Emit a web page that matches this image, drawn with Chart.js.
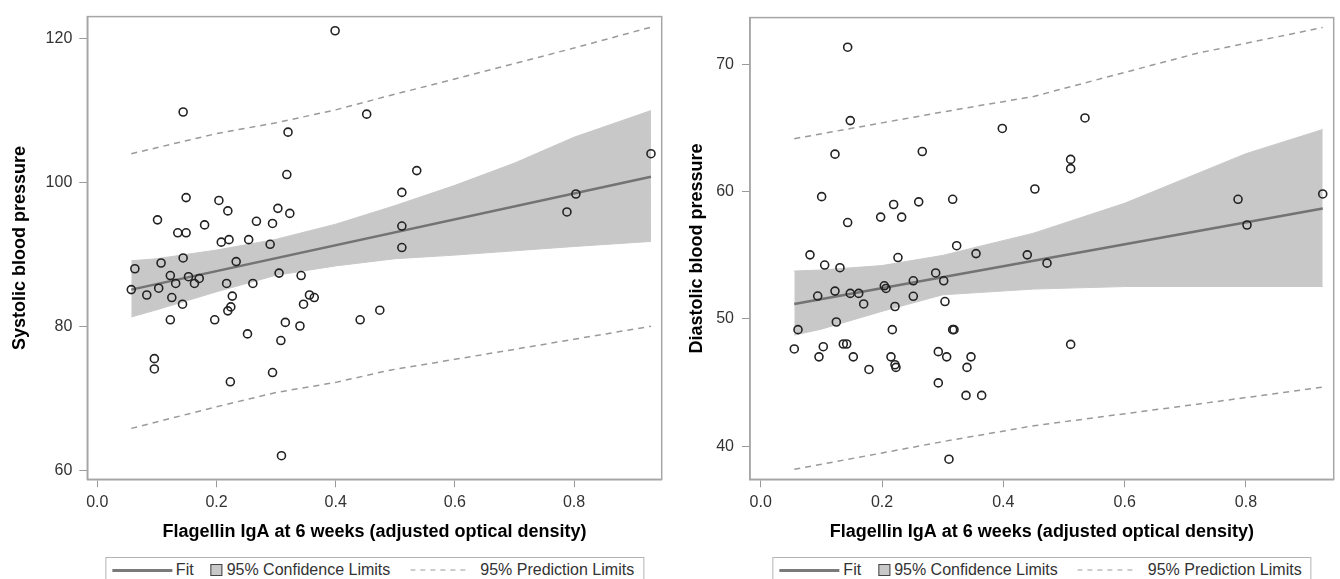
<!DOCTYPE html>
<html>
<head>
<meta charset="utf-8">
<script src="https://cdn.jsdelivr.net/npm/chart.js@4.4.0/dist/chart.umd.min.js"></script>
<style>
  html, body { margin: 0; padding: 0; background: #fff; width: 1340px; height: 579px; overflow: hidden;
               font-family: "Liberation Sans", Arial, sans-serif; }
  .panneau { position: absolute; top: 0; width: 670px; height: 550px; }
  .legende { position: absolute; top: 557px; height: 26px; box-sizing: border-box; border: 1px solid #b4b4b4;
             display: flex; align-items: center; font-size: 16px; color: #333; white-space: nowrap;
             padding: 0 9px 0 6px; transform: translateX(-50%); }
  .trait { width: 60px; height: 0; border-top: 3px solid #7a7a7a; margin-right: 4px; }
  .carre { width: 10px; height: 10px; background: #c8c8c8; border: 1px solid #444; margin: 0 4px 0 17px; }
  .pointille { margin: 0 12px 0 20px; }
</style>
</head>
<body>
<div class="panneau" style="left:0"><canvas id="graf_systolique"></canvas></div>
<div class="panneau" style="left:670px"><canvas id="graf_diastolique"></canvas></div>

<div class="legende" style="left:374.5px">
  <span class="trait"></span>Fit<span class="carre"></span>95% Confidence Limits
  <svg class="pointille" width="58" height="4"><line x1="0" y1="2" x2="58" y2="2" stroke="#999" stroke-width="1.2" stroke-dasharray="5,5"/></svg>95% Prediction Limits
</div>
<div class="legende" style="left:1042px">
  <span class="trait"></span>Fit<span class="carre"></span>95% Confidence Limits
  <svg class="pointille" width="58" height="4"><line x1="0" y1="2" x2="58" y2="2" stroke="#999" stroke-width="1.2" stroke-dasharray="5,5"/></svg>95% Prediction Limits
</div>

<script>
// graduations communes de l'axe X
const ticks_x = [0, 0.2, 0.4, 0.6, 0.8];

// graphique de gauche : pression systolique
const sys_x = [0.399, 0.144, 0.452, 0.320, 0.318, 0.149, 0.204, 0.219, 0.303, 0.323,
               0.101, 0.135, 0.149, 0.180, 0.267, 0.294, 0.208, 0.221, 0.254, 0.290,
               0.063, 0.107, 0.144, 0.233, 0.1225, 0.153, 0.171, 0.163, 0.1315, 0.103,
               0.057, 0.083, 0.125, 0.143, 0.217, 0.261, 0.2265, 0.224, 0.219, 0.305,
               0.342, 0.356, 0.364, 0.346, 0.1225, 0.197, 0.3155, 0.340, 0.252, 0.308,
               0.441, 0.474, 0.0957, 0.0957, 0.2232, 0.294, 0.309, 0.536, 0.511, 0.511,
               0.511, 0.929, 0.803, 0.788];
const sys_y = [121.1, 109.8, 109.5, 107.0, 101.1, 97.9, 97.5, 96.05, 96.4, 95.7,
               94.8, 93.0, 93.0, 94.1, 94.6, 94.3, 91.7, 92.05, 92.05, 91.4,
               88.0, 88.8, 89.5, 89.0, 87.06, 86.9, 86.65, 85.96, 85.96, 85.3,
               85.1, 84.35, 84.0, 83.07, 85.96, 85.96, 84.2, 82.7, 82.15, 87.4,
               87.06, 84.35, 84.0, 83.07, 80.9, 80.9, 80.54, 80.04, 78.94, 78.02,
               80.9, 82.24, 75.5, 74.07, 72.28, 73.57, 62.0, 101.65, 98.62, 93.94,
               90.95, 104.0, 98.4, 95.9];
const sys_fit_x = [0.057, 0.929];
const sys_fit_y = [85.1, 100.8];
const sys_ci_x = [0.057, 0.1, 0.2, 0.3, 0.4, 0.5, 0.6, 0.7, 0.8, 0.929];
const sys_ci_haut = [89.1, 89.4, 90.6, 92.1, 94.2, 96.8, 99.6, 102.7, 106.3, 110.0];
const sys_ci_bas = [81.3, 82.3, 84.8, 87.1, 88.4, 89.4, 89.9, 90.5, 91.1, 91.8];
const sys_pi_x = [0.057, 0.2, 0.3, 0.4, 0.491, 0.6, 0.8, 0.929];
const sys_pi_haut = [104.0, 106.8, 108.3, 110.1, 112.1, 114.4, 118.7, 121.6];
const sys_pi_bas = [65.8, 68.8, 70.8, 72.2, 73.9, 75.4, 78.2, 80.0];
const sys_ticks_y = [60, 80, 100, 120];

// graphique de droite : pression diastolique
const dia_x = [0.1434, 0.1477, 0.1225, 0.2664, 0.3983, 0.452, 0.1005, 0.2192, 0.2605, 0.3165,
               0.1978, 0.2324, 0.1434, 0.3231, 0.0813, 0.355, 0.4395, 0.2263, 0.1055, 0.1307,
               0.2885, 0.3017, 0.2516, 0.2038, 0.2066, 0.1225, 0.094, 0.1477, 0.1616, 0.2516,
               0.1698, 0.2214, 0.3038, 0.1247, 0.0615, 0.217, 0.3165, 0.3187, 0.0554, 0.1032,
               0.1362, 0.1418, 0.0961, 0.1527, 0.2148, 0.2214, 0.223, 0.1785, 0.2928, 0.3066,
               0.3467, 0.3401, 0.2928, 0.3385, 0.3643, 0.3104, 0.5346, 0.511, 0.511, 0.7869,
               0.9265, 0.8017, 0.472, 0.511];
const dia_y = [71.37, 65.6, 62.96, 63.17, 64.98, 60.22, 59.62, 59.0, 59.21, 59.41,
               58.01, 58.01, 57.58, 55.76, 55.04, 55.14, 55.04, 54.83, 54.24, 54.03,
               53.62, 53.0, 53.0, 52.61, 52.4, 52.19, 51.8, 52.01, 52.01, 51.78,
               51.18, 50.98, 51.37, 49.76, 49.16, 49.16, 49.16, 49.16, 47.64, 47.82,
               48.03, 48.03, 47.02, 47.02, 47.02, 46.4, 46.19, 46.03, 47.43, 47.02,
               47.02, 46.19, 44.97, 43.99, 43.99, 38.97, 65.81, 62.55, 61.82, 59.41,
               59.83, 57.39, 54.39, 48.0];
const dia_fit_x = [0.0554, 0.9265];
const dia_fit_y = [51.18, 58.69];
const dia_ci_x = [0.0554, 0.1, 0.2, 0.3, 0.45, 0.6, 0.8, 0.9265];
const dia_ci_haut = [53.77, 53.85, 54.2, 55.0, 56.75, 59.1, 63.0, 64.9];
const dia_ci_bas = [48.73, 49.2, 50.6, 51.9, 52.35, 52.55, 52.55, 52.55];
const dia_pi_x = [0.0554, 0.2, 0.3, 0.45, 0.72, 0.9265];
const dia_pi_haut = [64.18, 65.42, 66.28, 67.5, 70.9, 72.92];
const dia_pi_bas = [38.18, 39.46, 40.35, 41.6, 43.3, 44.64];
const dia_ticks_y = [40, 50, 60, 70];

Chart.defaults.font.family = '"Liberation Sans", Arial, sans-serif';

// petit plugin pour fermer le cadre (haut et droite)
const cadre = {
  id: 'cadre',
  beforeDatasetsDraw(chart) {
    const { ctx, chartArea: a } = chart;
    ctx.save();
    ctx.strokeStyle = '#a6a6a6';
    ctx.lineWidth = 1.5;
    ctx.strokeRect(a.left, a.top, a.right - a.left, a.bottom - a.top);
    ctx.restore();
  }
};

const to_xy = (xs, ys) => xs.map((x, i) => ({ x: x, y: ys[i] }));

function graphique(canvas_id, d) {
  return new Chart(document.getElementById(canvas_id), {
    type: 'line',
    data: {
      datasets: [
        { // points observés
          data: to_xy(d.px, d.py), showLine: false,
          pointRadius: 4, pointBorderWidth: 1.6, pointHoverRadius: 4,
          borderColor: '#222', backgroundColor: 'rgba(0,0,0,0)'
        },
        { // droite de régression
          data: to_xy(d.fit_x, d.fit_y), borderColor: '#737373', borderWidth: 2.5, pointRadius: 0
        },
        { // limites de prédiction
          data: to_xy(d.pi_x, d.pi_haut), borderColor: '#9a9a9a', borderWidth: 1.5, borderDash: [6, 5], pointRadius: 0
        },
        {
          data: to_xy(d.pi_x, d.pi_bas), borderColor: '#9a9a9a', borderWidth: 1.5, borderDash: [6, 5], pointRadius: 0
        },
        { // limites de confiance (bande grise)
          data: to_xy(d.ci_x, d.ci_bas), borderColor: '#c8c8c8', borderWidth: 1, pointRadius: 0, fill: false
        },
        {
          data: to_xy(d.ci_x, d.ci_haut), borderColor: '#c8c8c8', borderWidth: 1, pointRadius: 0,
          fill: '-1', backgroundColor: '#c8c8c8'
        }
      ]
    },
    options: {
      responsive: true,
      maintainAspectRatio: false,
      animation: false,
      events: [],
      layout: { padding: { top: 11.7, right: d.pad_right, left: 0, bottom: 0 } },
      plugins: { legend: { display: false }, tooltip: { enabled: false } },
      scales: {
        x: {
          type: 'linear', min: d.x_min, max: d.x_max,
          afterBuildTicks: s => { s.ticks = ticks_x.map(v => ({ value: v })); },
          afterFit: s => { s.height = 70.7; },
          grid: { display: true, drawOnChartArea: false, drawTicks: true, tickLength: 8, color: '#9a9a9a' },
          border: { display: true, color: '#a6a6a6', width: 1.5 },
          ticks: { color: '#333', font: { size: 16 }, padding: 6, callback: v => v.toFixed(1) },
          title: {
            display: true, text: 'Flagellin IgA at 6 weeks (adjusted optical density)',
            color: '#000', font: { size: 18, weight: 'bold' }, padding: { top: 0, bottom: 7 }
          }
        },
        y: {
          type: 'linear', min: d.y_min, max: d.y_max,
          afterBuildTicks: s => { s.ticks = d.ticks_y.map(v => ({ value: v })); },
          afterFit: s => { s.width = d.axe_y; },
          grid: { display: true, drawOnChartArea: false, drawTicks: true, tickLength: 8, color: '#9a9a9a' },
          border: { display: true, color: '#a6a6a6', width: 1.5 },
          ticks: { color: '#333', font: { size: 16 }, padding: d.pad_ticks },
          title: {
            display: true, text: d.titre_y, color: '#000',
            font: { size: 18, weight: 'bold' }, padding: { top: d.pad_titre, bottom: 0 }
          }
        }
      }
    },
    plugins: [cadre]
  });
}

graphique('graf_systolique', {
  px: sys_x, py: sys_y, fit_x: sys_fit_x, fit_y: sys_fit_y,
  ci_x: sys_ci_x, ci_haut: sys_ci_haut, ci_bas: sys_ci_bas,
  pi_x: sys_pi_x, pi_haut: sys_pi_haut, pi_bas: sys_pi_bas,
  ticks_y: sys_ticks_y, titre_y: 'Systolic blood pressure',
  x_min: -0.0168, x_max: 0.947, y_min: 58.72, y_max: 123.07,
  axe_y: 87.3, pad_right: 8.3, pad_ticks: 7, pad_titre: 9.2
});

graphique('graf_diastolique', {
  px: dia_x, py: dia_y, fit_x: dia_fit_x, fit_y: dia_fit_y,
  ci_x: dia_ci_x, ci_haut: dia_ci_haut, ci_bas: dia_ci_bas,
  pi_x: dia_pi_x, pi_haut: dia_pi_haut, pi_bas: dia_pi_bas,
  ticks_y: dia_ticks_y, titre_y: 'Diastolic blood pressure',
  x_min: -0.0176, x_max: 0.9446, y_min: 37.39, y_max: 73.7,
  axe_y: 80, pad_right: 6.3, pad_ticks: 8, pad_titre: 16.2
});
</script>
</body>
</html>
